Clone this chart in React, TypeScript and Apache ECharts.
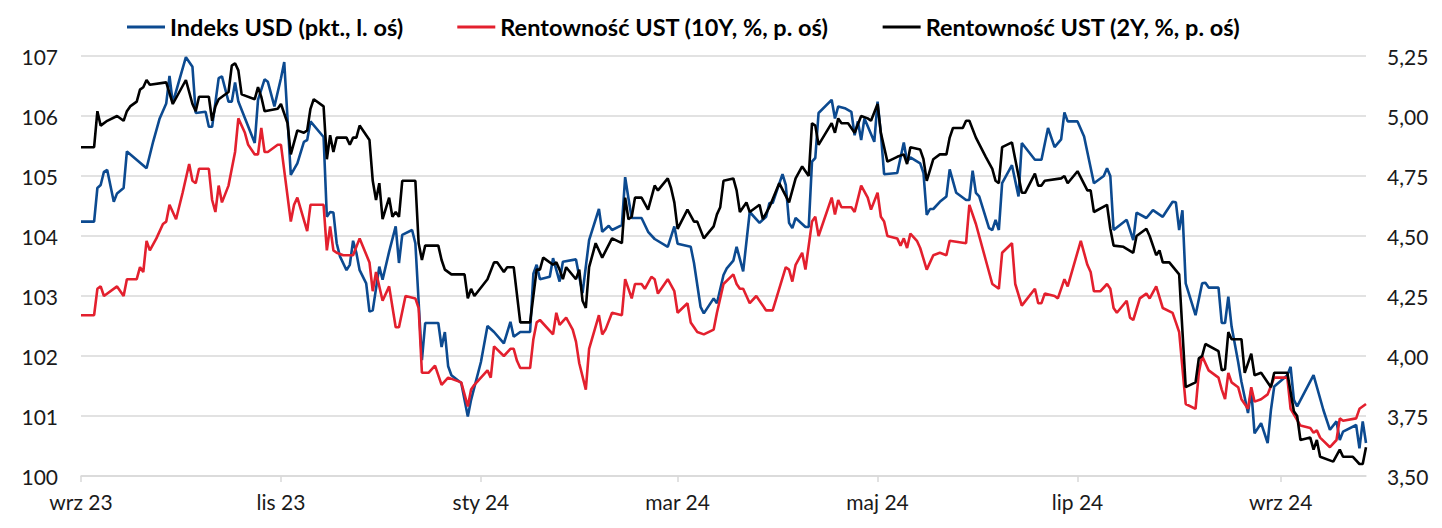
import React, { useEffect, useRef } from "react";
import * as echarts from "echarts";

const usdDates = [
  "2023-09-01","2023-09-05","2023-09-06","2023-09-07","2023-09-08","2023-09-09","2023-09-11","2023-09-12","2023-09-14","2023-09-15",
  "2023-09-21","2023-09-23","2023-09-25","2023-09-27","2023-09-28","2023-09-29","2023-10-03","2023-10-05","2023-10-06","2023-10-09",
  "2023-10-10","2023-10-11","2023-10-13","2023-10-14","2023-10-16","2023-10-17","2023-10-18","2023-10-19","2023-10-24","2023-10-25",
  "2023-10-27","2023-10-28","2023-10-30","2023-11-01","2023-11-02","2023-11-04","2023-11-06","2023-11-08","2023-11-09","2023-11-10",
  "2023-11-14","2023-11-15","2023-11-16","2023-11-17","2023-11-18","2023-11-19","2023-11-21","2023-11-22","2023-11-23","2023-11-24",
  "2023-11-25","2023-11-27","2023-11-28","2023-11-29","2023-12-01","2023-12-02","2023-12-04","2023-12-06","2023-12-07","2023-12-08",
  "2023-12-11","2023-12-12","2023-12-14","2023-12-15","2023-12-19","2023-12-20","2023-12-21","2023-12-22","2023-12-23","2023-12-26",
  "2023-12-28","2023-12-29","2024-01-01","2024-01-03","2024-01-05","2024-01-08","2024-01-10","2024-01-11","2024-01-13","2024-01-16",
  "2024-01-17","2024-01-18","2024-01-19","2024-01-22","2024-01-23","2024-01-25","2024-01-26","2024-01-30","2024-01-31","2024-02-01",
  "2024-02-03","2024-02-06","2024-02-07","2024-02-09","2024-02-10","2024-02-13","2024-02-14","2024-02-15","2024-02-16","2024-02-19",
  "2024-02-21","2024-02-23","2024-02-27","2024-02-29","2024-03-01","2024-03-05","2024-03-06","2024-03-08","2024-03-09","2024-03-12",
  "2024-03-13","2024-03-15","2024-03-16","2024-03-18","2024-03-19","2024-03-21","2024-03-23","2024-03-26","2024-03-28","2024-03-29",
  "2024-03-30","2024-04-02","2024-04-03","2024-04-04","2024-04-05","2024-04-06","2024-04-09","2024-04-10","2024-04-11","2024-04-12",
  "2024-04-13","2024-04-17","2024-04-18","2024-04-19","2024-04-21","2024-04-23","2024-04-24","2024-04-25","2024-04-26","2024-04-27",
  "2024-04-30","2024-05-01","2024-05-02","2024-05-03","2024-05-07","2024-05-09","2024-05-10","2024-05-11","2024-05-14","2024-05-15",
  "2024-05-16","2024-05-17","2024-05-18","2024-05-20","2024-05-22","2024-05-23","2024-05-25","2024-05-28","2024-05-29","2024-05-30",
  "2024-05-31","2024-06-01","2024-06-04","2024-06-05","2024-06-06","2024-06-07","2024-06-08","2024-06-11","2024-06-13","2024-06-14",
  "2024-06-18","2024-06-20","2024-06-22","2024-06-24","2024-06-26","2024-06-27","2024-06-28","2024-07-01","2024-07-03","2024-07-06",
  "2024-07-09","2024-07-10","2024-07-11","2024-07-12","2024-07-16","2024-07-18","2024-07-19","2024-07-22","2024-07-24","2024-07-27",
  "2024-07-30","2024-07-31","2024-08-01","2024-08-02","2024-08-03","2024-08-06","2024-08-08","2024-08-09","2024-08-10","2024-08-13",
  "2024-08-14","2024-08-15","2024-08-16","2024-08-17","2024-08-19","2024-08-20","2024-08-22","2024-08-23","2024-08-24","2024-08-26",
  "2024-08-28","2024-08-29","2024-08-30","2024-09-03","2024-09-04","2024-09-05","2024-09-06","2024-09-11","2024-09-14","2024-09-16",
  "2024-09-18","2024-09-19","2024-09-20","2024-09-24","2024-09-25","2024-09-26","2024-09-27"
];
const usdValues = [
  104.24,104.24,104.8,104.85,105.07,105.1,104.57,104.71,104.8,105.41,
  105.13,105.57,105.96,106.21,106.67,106.22,106.98,106.82,106.05,106.07,
  105.82,105.82,106.63,106.66,106.24,106.24,106.56,106.24,105.55,106.27,
  106.61,106.57,106.16,106.63,106.9,105.02,105.21,105.57,105.6,105.91,
  105.65,104.32,104.4,104.39,103.88,103.66,103.43,103.52,103.92,103.72,
  103.43,103.21,102.74,102.76,103.49,103.27,103.74,104.16,103.55,104.02,
  104.1,103.88,101.93,102.55,102.55,102.15,102.4,101.83,101.68,101.55,
  100.99,101.27,101.9,102.5,102.4,102.21,102.57,102.32,102.4,102.4,
  103.37,103.52,103.28,103.32,103.63,103.24,103.57,103.61,103.32,103.05,
  103.93,104.45,104.07,104.17,104.1,104.18,104.98,104.63,104.3,104.3,
  104.07,103.95,103.82,104.16,103.87,103.82,103.55,102.82,102.71,102.96,
  102.88,103.35,103.46,103.59,103.82,103.41,104.4,104.22,104.32,104.55,
  104.55,105.03,104.85,104.22,104.13,104.3,104.15,104.15,105.24,105.3,
  106.05,106.27,105.96,106.16,106.13,106.07,105.68,105.91,105.6,105.96,
  105.57,106.24,105.71,105.03,105.05,105.56,105.24,105.31,105.21,105.05,
  104.35,104.45,104.45,104.57,104.66,105.11,104.72,104.6,104.6,105.09,
  104.72,104.66,104.13,104.1,104.27,104.1,104.88,105.18,104.66,105.55,
  105.27,105.27,105.8,105.48,105.61,106.06,105.91,105.91,105.66,104.88,
  105.0,105.13,105.0,104.1,104.27,103.93,104.39,104.3,104.43,104.32,
  104.57,104.56,104.1,104.43,103.21,102.68,103.21,103.22,103.14,103.14,
  102.55,102.55,102.99,102.49,101.9,101.57,101.05,101.43,100.71,100.88,
  100.55,101.1,101.49,101.68,101.82,101.27,101.16,101.68,101.1,100.77,
  100.91,100.6,100.74,100.85,100.46,100.91,100.55
];

const ust10Dates = [
  "2023-09-01","2023-09-05","2023-09-06","2023-09-07","2023-09-08","2023-09-12","2023-09-14","2023-09-15","2023-09-18","2023-09-19",
  "2023-09-20","2023-09-21","2023-09-22","2023-09-24","2023-09-26","2023-09-27","2023-09-28","2023-09-30","2023-10-02","2023-10-04",
  "2023-10-05","2023-10-06","2023-10-07","2023-10-10","2023-10-11","2023-10-12","2023-10-13","2023-10-14","2023-10-16","2023-10-18",
  "2023-10-19","2023-10-21","2023-10-22","2023-10-24","2023-10-25","2023-10-26","2023-10-27","2023-10-28","2023-10-31","2023-11-01",
  "2023-11-04","2023-11-05","2023-11-06","2023-11-09","2023-11-10","2023-11-14","2023-11-15","2023-11-16","2023-11-17","2023-11-18",
  "2023-11-20","2023-11-23","2023-11-25","2023-11-28","2023-11-29","2023-11-30","2023-12-02","2023-12-04","2023-12-06","2023-12-07",
  "2023-12-09","2023-12-12","2023-12-13","2023-12-14","2023-12-16","2023-12-18","2023-12-20","2023-12-22","2023-12-26","2023-12-28",
  "2023-12-29","2023-12-30","2024-01-03","2024-01-04","2024-01-05","2024-01-08","2024-01-10","2024-01-11","2024-01-12","2024-01-13",
  "2024-01-16","2024-01-17","2024-01-18","2024-01-19","2024-01-23","2024-01-24","2024-01-25","2024-01-27","2024-01-29","2024-01-30",
  "2024-01-31","2024-02-02","2024-02-03","2024-02-06","2024-02-07","2024-02-08","2024-02-10","2024-02-13","2024-02-14","2024-02-16",
  "2024-02-17","2024-02-19","2024-02-20","2024-02-22","2024-02-23","2024-02-24","2024-02-27","2024-02-29","2024-03-01","2024-03-04",
  "2024-03-05","2024-03-07","2024-03-09","2024-03-12","2024-03-13","2024-03-15","2024-03-18","2024-03-19","2024-03-20","2024-03-21",
  "2024-03-23","2024-03-25","2024-03-28","2024-03-30","2024-04-03","2024-04-04","2024-04-05","2024-04-06","2024-04-08","2024-04-09",
  "2024-04-11","2024-04-12","2024-04-13","2024-04-17","2024-04-18","2024-04-19","2024-04-20","2024-04-23","2024-04-24","2024-04-26",
  "2024-04-28","2024-04-29","2024-05-01","2024-05-02","2024-05-03","2024-05-04","2024-05-07","2024-05-08","2024-05-09","2024-05-10",
  "2024-05-11","2024-05-13","2024-05-14","2024-05-16","2024-05-18","2024-05-20","2024-05-22","2024-05-23","2024-05-28","2024-05-29",
  "2024-05-31","2024-06-03","2024-06-05","2024-06-07","2024-06-08","2024-06-11","2024-06-12","2024-06-14","2024-06-18","2024-06-19",
  "2024-06-20","2024-06-21","2024-06-24","2024-06-25","2024-06-27","2024-06-28","2024-07-02","2024-07-04","2024-07-05","2024-07-06",
  "2024-07-08","2024-07-10","2024-07-11","2024-07-12","2024-07-13","2024-07-16","2024-07-17","2024-07-18","2024-07-20","2024-07-22",
  "2024-07-23","2024-07-25","2024-07-27","2024-07-30","2024-07-31","2024-08-01","2024-08-03","2024-08-06","2024-08-07","2024-08-08",
  "2024-08-10","2024-08-13","2024-08-14","2024-08-15","2024-08-16","2024-08-17","2024-08-19","2024-08-20","2024-08-22","2024-08-23",
  "2024-08-24","2024-08-26","2024-08-28","2024-08-30","2024-09-03","2024-09-04","2024-09-07","2024-09-10","2024-09-11","2024-09-12",
  "2024-09-13","2024-09-16","2024-09-18","2024-09-19","2024-09-20","2024-09-24","2024-09-25","2024-09-27"
];
const ust10Values = [
  4.17,4.17,4.28,4.29,4.25,4.29,4.25,4.32,4.32,4.37,
  4.35,4.48,4.44,4.49,4.55,4.56,4.63,4.57,4.68,4.8,
  4.73,4.72,4.78,4.78,4.65,4.6,4.71,4.64,4.71,4.85,
  4.99,4.93,4.88,4.84,4.84,4.95,4.85,4.85,4.88,4.88,
  4.56,4.63,4.66,4.52,4.63,4.63,4.44,4.54,4.44,4.43,
  4.42,4.42,4.49,4.39,4.27,4.35,4.23,4.29,4.12,4.12,
  4.25,4.24,4.2,3.93,3.93,3.96,3.88,3.91,3.89,3.79,
  3.86,3.88,3.94,3.91,4.04,4.0,4.03,4.03,3.98,3.95,
  3.95,4.07,4.14,4.15,4.09,4.18,4.13,4.16,4.11,4.06,
  3.97,3.86,4.03,4.17,4.09,4.11,4.18,4.17,4.32,4.24,
  4.3,4.3,4.28,4.33,4.32,4.26,4.32,4.27,4.18,4.22,
  4.14,4.1,4.09,4.11,4.18,4.3,4.34,4.3,4.28,4.28,
  4.22,4.25,4.19,4.19,4.37,4.36,4.31,4.38,4.43,4.36,
  4.56,4.58,4.5,4.66,4.59,4.65,4.62,4.62,4.6,4.71,
  4.66,4.61,4.68,4.58,4.56,4.5,4.49,4.46,4.49,4.45,
  4.51,4.48,4.45,4.36,4.42,4.43,4.42,4.48,4.47,4.63,
  4.55,4.4,4.3,4.28,4.43,4.47,4.3,4.21,4.28,4.22,
  4.22,4.26,4.25,4.24,4.32,4.29,4.48,4.38,4.35,4.27,
  4.27,4.3,4.28,4.2,4.18,4.23,4.16,4.15,4.24,4.26,
  4.24,4.29,4.2,4.18,4.14,4.1,3.8,3.78,3.93,4.0,
  3.94,3.91,3.86,3.82,3.93,3.89,3.87,3.82,3.78,3.87,
  3.81,3.82,3.84,3.91,3.91,3.78,3.71,3.7,3.68,3.69,
  3.66,3.62,3.65,3.74,3.73,3.74,3.78,3.8
];

const ust2Dates = [
  "2023-09-01","2023-09-05","2023-09-06","2023-09-07","2023-09-09","2023-09-12","2023-09-14","2023-09-15","2023-09-16","2023-09-18",
  "2023-09-19","2023-09-20","2023-09-21","2023-09-22","2023-09-27","2023-09-29","2023-10-03","2023-10-05","2023-10-06","2023-10-07",
  "2023-10-10","2023-10-11","2023-10-12","2023-10-13","2023-10-16","2023-10-17","2023-10-18","2023-10-19","2023-10-20","2023-10-24",
  "2023-10-25","2023-10-26","2023-10-27","2023-10-31","2023-11-01","2023-11-03","2023-11-04","2023-11-06","2023-11-08","2023-11-09",
  "2023-11-10","2023-11-11","2023-11-14","2023-11-15","2023-11-16","2023-11-17","2023-11-18","2023-11-21","2023-11-22","2023-11-23",
  "2023-11-24","2023-11-25","2023-11-28","2023-11-29","2023-11-30","2023-12-01","2023-12-02","2023-12-04","2023-12-05","2023-12-06",
  "2023-12-07","2023-12-08","2023-12-12","2023-12-13","2023-12-14","2023-12-15","2023-12-19","2023-12-20","2023-12-21","2023-12-23",
  "2023-12-27","2023-12-28","2023-12-29","2023-12-30","2024-01-03","2024-01-05","2024-01-06","2024-01-08","2024-01-09","2024-01-11",
  "2024-01-13","2024-01-16","2024-01-18","2024-01-19","2024-01-20","2024-01-23","2024-01-24","2024-01-25","2024-01-26","2024-01-27",
  "2024-01-30","2024-01-31","2024-02-01","2024-02-02","2024-02-03","2024-02-05","2024-02-07","2024-02-10","2024-02-13","2024-02-14",
  "2024-02-15","2024-02-16","2024-02-17","2024-02-19","2024-02-21","2024-02-23","2024-02-24","2024-02-27","2024-02-28","2024-02-29",
  "2024-03-01","2024-03-04","2024-03-06","2024-03-07","2024-03-09","2024-03-12","2024-03-13","2024-03-14","2024-03-15","2024-03-18",
  "2024-03-19","2024-03-20","2024-03-22","2024-03-23","2024-03-26","2024-03-27","2024-03-29","2024-04-01","2024-04-04","2024-04-06",
  "2024-04-08","2024-04-10","2024-04-11","2024-04-12","2024-04-13","2024-04-17","2024-04-18","2024-04-19","2024-04-20","2024-04-22",
  "2024-04-24","2024-04-26","2024-04-28","2024-04-29","2024-05-01","2024-05-02","2024-05-04","2024-05-07","2024-05-09","2024-05-10",
  "2024-05-11","2024-05-14","2024-05-15","2024-05-16","2024-05-18","2024-05-20","2024-05-22","2024-05-23","2024-05-24","2024-05-27",
  "2024-05-28","2024-05-29","2024-05-31","2024-06-03","2024-06-05","2024-06-06","2024-06-07","2024-06-08","2024-06-11","2024-06-12",
  "2024-06-14","2024-06-15","2024-06-18","2024-06-19","2024-06-20","2024-06-21","2024-06-26","2024-06-27","2024-06-28","2024-07-01",
  "2024-07-04","2024-07-05","2024-07-06","2024-07-10","2024-07-11","2024-07-12","2024-07-15","2024-07-18","2024-07-19","2024-07-22",
  "2024-07-23","2024-07-25","2024-07-26","2024-07-27","2024-07-29","2024-08-01","2024-08-03","2024-08-06","2024-08-07","2024-08-08",
  "2024-08-09","2024-08-13","2024-08-14","2024-08-15","2024-08-16","2024-08-17","2024-08-20","2024-08-21","2024-08-23","2024-08-24",
  "2024-08-26","2024-08-29","2024-08-30","2024-09-03","2024-09-05","2024-09-06","2024-09-07","2024-09-10","2024-09-11","2024-09-12",
  "2024-09-13","2024-09-17","2024-09-19","2024-09-20","2024-09-23","2024-09-25","2024-09-26","2024-09-27"
];
const ust2Values = [
  4.87,4.87,5.02,4.96,4.98,5.0,4.98,5.02,5.04,5.06,
  5.11,5.12,5.15,5.13,5.14,5.05,5.15,5.05,5.02,5.08,
  5.08,4.98,5.04,5.07,5.1,5.21,5.22,5.19,5.09,5.07,
  5.12,5.08,5.02,5.03,5.05,4.97,4.84,4.94,4.93,4.94,
  5.03,5.07,5.04,4.82,4.92,4.85,4.91,4.91,4.88,4.91,
  4.91,4.96,4.9,4.73,4.65,4.72,4.57,4.66,4.58,4.6,
  4.58,4.73,4.73,4.47,4.4,4.46,4.46,4.4,4.36,4.34,
  4.34,4.24,4.28,4.25,4.32,4.39,4.39,4.35,4.37,4.37,
  4.14,4.14,4.36,4.36,4.41,4.38,4.39,4.36,4.32,4.37,
  4.32,4.36,4.23,4.2,4.37,4.47,4.41,4.49,4.47,4.66,
  4.57,4.58,4.66,4.66,4.61,4.71,4.69,4.74,4.7,4.64,
  4.53,4.61,4.56,4.56,4.49,4.54,4.59,4.62,4.73,4.74,
  4.69,4.6,4.64,4.6,4.63,4.57,4.62,4.72,4.64,4.74,
  4.79,4.75,4.97,4.96,4.88,4.97,4.93,4.99,4.97,4.97,
  4.93,5.0,4.99,4.98,5.05,4.93,4.81,4.83,4.84,4.8,
  4.87,4.86,4.82,4.73,4.82,4.84,4.84,4.91,4.95,4.95,
  4.98,4.98,4.91,4.83,4.78,4.73,4.72,4.87,4.89,4.82,
  4.68,4.68,4.76,4.71,4.71,4.73,4.74,4.75,4.72,4.77,
  4.69,4.69,4.6,4.63,4.53,4.46,4.455,4.43,4.5,4.53,
  4.5,4.42,4.44,4.39,4.39,4.34,3.87,3.89,3.99,4.0,
  4.05,4.02,3.94,3.945,4.1,4.07,4.07,3.93,4.01,3.92,
  3.93,3.87,3.93,3.93,3.77,3.75,3.65,3.66,3.61,3.65,
  3.58,3.56,3.61,3.58,3.58,3.55,3.55,3.62
];

const tickDates = ["2023-09-01", "2023-11-01", "2024-01-01", "2024-03-01", "2024-05-01", "2024-07-01", "2024-09-01"];
const tickLabels = ["wrz 23", "lis 23", "sty 24", "mar 24", "maj 24", "lip 24", "wrz 24"];
const xStart = "2023-09-01";
const xEnd = "2024-09-27";

const seriesNames = [
  "Indeks USD (pkt., l. oś)",
  "Rentowność UST (10Y, %, p. oś)",
  "Rentowność UST (2Y, %, p. oś)",
];
const seriesColors = ["#0c4a90", "#e3202e", "#000000"];

function dayStamp(s: string) {
  const [y, m, d] = s.split("-").map(Number);
  return Date.UTC(y, m - 1, d);
}

function toPairs(dates: string[], values: number[]) {
  return dates.map((d, i) => [dayStamp(d), values[i]]);
}

export default function App() {
  const ref = useRef<HTMLDivElement>(null);

  useEffect(() => {
    if (!ref.current) return;
    const chart = echarts.init(ref.current, null, { renderer: "svg" });
    const tickTimes = tickDates.map(dayStamp);
    const font = "Lato";
    const gridColor = "#d9d9d9";

    chart.setOption({
      animation: false,
      backgroundColor: "#ffffff",
      legend: {
        top: 15,
        left: 127,
        padding: 0,
        icon: "rect",
        itemWidth: 38,
        itemHeight: 3,
        itemGap: 54,
        textStyle: { fontFamily: font, fontWeight: "bold", fontSize: 23.5, color: "#000000" },
        data: seriesNames,
      },
      grid: { left: 81, right: 76, top: 56, bottom: 52 },
      xAxis: {
        type: "value",
        min: dayStamp(xStart),
        max: dayStamp(xEnd),
        splitLine: { show: false },
        axisLine: { show: true, lineStyle: { color: gridColor, width: 1.5 } },
        axisTick: { show: true, customValues: tickTimes, length: 6, lineStyle: { color: gridColor, width: 1.5 } },
        axisLabel: {
          customValues: tickTimes,
          margin: 15,
          fontFamily: font,
          fontSize: 21,
          color: "#1a1a1a",
          formatter: (val: number) => {
            let best = -1;
            let bestDiff = Infinity;
            tickTimes.forEach((t, i) => {
              const diff = Math.abs(t - val);
              if (diff < bestDiff) { bestDiff = diff; best = i; }
            });
            return bestDiff < 86400000 ? tickLabels[best] : "";
          },
        },
      },
      yAxis: [
        {
          type: "value",
          position: "left",
          min: 100,
          max: 107,
          interval: 1,
          axisLine: { show: false },
          axisTick: { show: false },
          splitLine: { show: true, lineStyle: { color: gridColor, width: 1.5 } },
          axisLabel: { margin: 23, fontFamily: font, fontSize: 21, color: "#1a1a1a" },
        },
        {
          type: "value",
          position: "right",
          min: 3.5,
          max: 5.25,
          interval: 0.25,
          axisLine: { show: false },
          axisTick: { show: false },
          splitLine: { show: false },
          axisLabel: {
            margin: 21,
            fontFamily: font,
            fontSize: 21,
            color: "#1a1a1a",
            formatter: (v: number) => v.toFixed(2).replace(".", ","),
          },
        },
      ],
      series: [
        {
          name: seriesNames[0],
          type: "line",
          yAxisIndex: 0,
          data: toPairs(usdDates, usdValues),
          showSymbol: false,
          color: seriesColors[0],
          lineStyle: { width: 2.6, color: seriesColors[0] },
          z: 2,
        },
        {
          name: seriesNames[1],
          type: "line",
          yAxisIndex: 1,
          data: toPairs(ust10Dates, ust10Values),
          showSymbol: false,
          color: seriesColors[1],
          lineStyle: { width: 2.6, color: seriesColors[1] },
          z: 3,
        },
        {
          name: seriesNames[2],
          type: "line",
          yAxisIndex: 1,
          data: toPairs(ust2Dates, ust2Values),
          showSymbol: false,
          color: seriesColors[2],
          lineStyle: { width: 2.6, color: seriesColors[2] },
          z: 4,
        },
      ],
    });

    return () => chart.dispose();
  }, []);

  return (
    <div
      ref={ref}
      style={{ position: "fixed", left: 0, top: 0, width: 1442, height: 528, background: "#fff" }}
    />
  );
}
